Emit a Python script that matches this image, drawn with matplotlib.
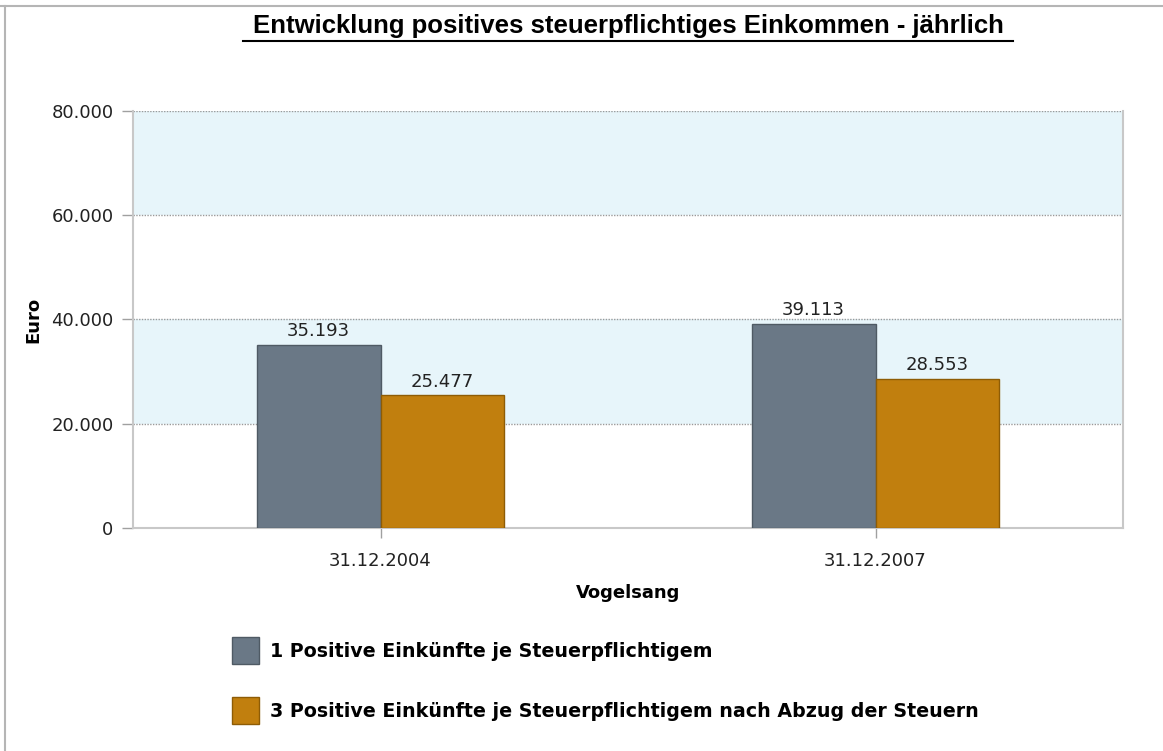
import matplotlib.pyplot as plt
from matplotlib.lines import Line2D
from matplotlib.patches import Patch
import numpy as np

# data
categories = ["31.12.2004", "31.12.2007"]
series_names = [
    "1 Positive Einkünfte je Steuerpflichtigem",
    "3 Positive Einkünfte je Steuerpflichtigem nach Abzug der Steuern",
]
gross_income = [35193, 39113]
net_income = [25477, 28553]
y_ticks = [0, 20000, 40000, 60000, 80000]
colors = ["#6a7886", "#c17f0e"]
edge_colors = ["#4f5a64", "#8e5c05"]


def fmt(v):
    return f"{v:,.0f}".replace(",", ".")


fig = plt.figure(figsize=(11.63, 7.51), dpi=100)
fig.patch.set_facecolor("white")

# outer frame (top and left grey border)
fig.add_artist(Line2D([0, 1], [1 - 6 / 751, 1 - 6 / 751], transform=fig.transFigure,
                      color="#b5b5b5", lw=1.5))
fig.add_artist(Line2D([5 / 1163, 5 / 1163], [0, 1 - 6 / 751], transform=fig.transFigure,
                      color="#b5b5b5", lw=1.5))

ax = fig.add_axes([133 / 1163, 1 - 528 / 751, (1123 - 133) / 1163, (528 - 111) / 751])
ax.set_xlim(-0.5, 1.5)
ax.set_ylim(0, 80000)

# alternating background bands
for lo, hi in [(20000, 40000), (60000, 80000)]:
    ax.axhspan(lo, hi, color="#e7f5fa", zorder=0, lw=0)
for y in y_ticks[1:]:
    ax.axhline(y, color="#9a9a9a", lw=1, ls=(0, (1, 1)), zorder=1)

x = np.arange(len(categories))
width = 0.25
for i, (vals, name) in enumerate(zip([gross_income, net_income], series_names)):
    pos = x + (i - 0.5) * width
    ax.bar(pos, vals, width, color=colors[i], edgecolor=edge_colors[i], lw=1,
           zorder=3, label=name)
    for p, v in zip(pos, vals):
        ax.text(p, v + 900, fmt(v), ha="center", va="bottom", fontsize=13,
                color="#222222", zorder=4)

ax.set_yticks(y_ticks)
ax.set_yticklabels([fmt(v) for v in y_ticks], fontsize=13, color="#222222")
ax.set_xticks(x)
ax.set_xticklabels(categories, fontsize=13, color="#222222")
ax.tick_params(axis="y", length=8, color="#a0a0a0", width=1, pad=6)
ax.tick_params(axis="x", length=7, color="#a0a0a0", width=1, pad=10)
for t in ax.yaxis.get_ticklines() + ax.xaxis.get_ticklines():
    t.set_linestyle((0, (1, 1)))

for s in ["left", "right", "bottom"]:
    ax.spines[s].set_color("#c8c8c8")
    ax.spines[s].set_linewidth(1.5)
ax.spines["top"].set_visible(False)

ax.set_ylabel("Euro", fontsize=13, fontweight="bold")
ax.yaxis.set_label_coords(-0.092, 0.5)
ax.set_xlabel("Vogelsang", fontsize=13, fontweight="bold", labelpad=10)

fig.text(628 / 1163, 1 - 26 / 751, "Entwicklung positives steuerpflichtiges Einkommen - jährlich",
         ha="center", va="center", fontsize=18.5, fontweight="bold",
         family="Liberation Sans")
# underline
fig.add_artist(Line2D([243 / 1163, 1013 / 1163], [1 - 41 / 751, 1 - 41 / 751],
                      transform=fig.transFigure, color="black", lw=1.5))

handles = [Patch(facecolor=colors[i], edgecolor=edge_colors[i]) for i in range(2)]
fig.legend(handles, series_names, loc="upper left",
           bbox_to_anchor=(215 / 1163, 1 - 620 / 751), frameon=False,
           prop={"size": 13.7, "weight": "bold", "family": "DejaVu Sans"},
           handlelength=1.4, handleheight=1.8, labelspacing=1.75, handletextpad=0.6)

fig.savefig("out.png", dpi=100)
